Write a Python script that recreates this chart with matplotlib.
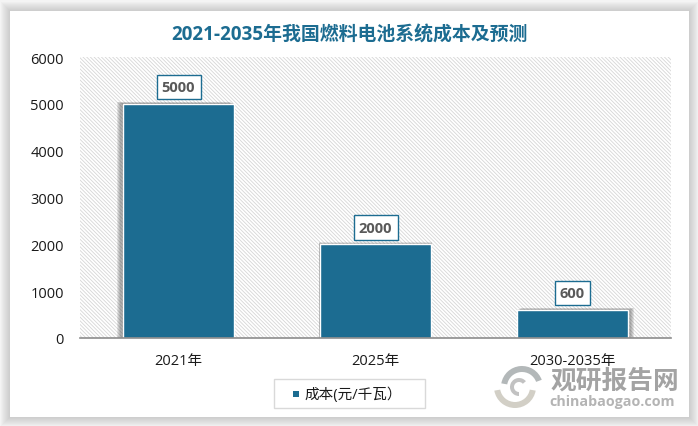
import matplotlib
matplotlib.use("Agg")
import matplotlib.pyplot as plt
from matplotlib.patches import Rectangle, Wedge

plt.rcParams['font.family'] = ['Open Sans', 'Noto Sans CJK SC', 'DejaVu Sans']
plt.rcParams['hatch.linewidth'] = 0.6

categories = ["2021年", "2025年", "2030-2035年"]
cost = [5000, 2000, 600]
y_ticks = [0, 1000, 2000, 3000, 4000, 5000, 6000]
title = "2021-2035年我国燃料电池系统成本及预测"
series_name = "成本(元/千瓦）"

BLUE = "#1c6c91"
W, H = 698, 427


def fig_rect(x0, y0, x1, y1, **kw):
    # pixel coords, y measured from the top of the image
    return Rectangle((x0 / W, 1 - y1 / H), (x1 - x0) / W, (y1 - y0) / H,
                     transform=fig.transFigure, **kw)


fig = plt.figure(figsize=(W / 100, H / 100), dpi=100, facecolor="#f4f4f4")

# card shadow, then the white card (negative zorder keeps them under the axes)
for k in range(9, 0, -1):
    fig.patches.append(fig_rect(10 - k, 12 - k, 689 + k, 418 + k, facecolor="#8c8c8c",
                                edgecolor="none", alpha=0.045, zorder=-3))
fig.patches.append(fig_rect(10, 12, 689, 418, facecolor="white", edgecolor="none", zorder=-2))

ax = fig.add_axes([80 / W, 1 - 339 / H, 591 / W, 281 / H])
ax.patch.set_alpha(0)
ax.add_patch(Rectangle((0, 0), 1, 1, transform=ax.transAxes, facecolor="white",
                       edgecolor="#d6d6d6", hatch="\\\\\\\\\\\\\\\\\\", linewidth=0, zorder=0))

x = list(range(len(categories)))
bar_width = 0.565

# soft bar shadows, leaning away from the middle of the chart
shadow_shift = [-0.025, 0.0, 0.025]
for k in range(5, 0, -1):
    ax.bar([i + s * k / 5 for i, s in zip(x, shadow_shift)], [v + k * 8 for v in cost],
           bar_width + k * 0.002, color="#444444", alpha=0.13, linewidth=0, zorder=1)

ax.bar(x, cost, bar_width, color=BLUE, edgecolor="white", linewidth=1, zorder=2)

for i, v in zip(x, cost):
    ax.annotate(str(v), xy=(i, v), xytext=(0, 12), textcoords="offset points",
                ha="center", va="center", fontsize=10.5, fontweight="bold", color="#595959",
                bbox=dict(boxstyle="square,pad=0.36", facecolor="white", edgecolor=BLUE,
                          linewidth=1), zorder=4)

ax.set_xlim(-0.5, 2.5)
ax.set_ylim(0, 6000)
ax.set_xticks(x)
ax.set_xticklabels(categories)
ax.set_yticks(y_ticks)
ax.tick_params(axis="both", length=0, labelsize=10.5, labelcolor="#1a1a1a")
ax.tick_params(axis="x", pad=10.5)
ax.tick_params(axis="y", pad=11.5)
for name in ["top", "left", "right"]:
    ax.spines[name].set_visible(False)
ax.spines["bottom"].set_color("#8c8c8c")
ax.spines["bottom"].set_linewidth(1.2)
ax.spines["bottom"].set_zorder(5)

fig.text(349 / W, 1 - 36 / H, title, ha="center", va="center", fontsize=13.6,
         fontweight="bold", color=BLUE)

# legend box
fig.patches.append(fig_rect(274, 380, 425, 409, facecolor="white", edgecolor="#d9d9d9", linewidth=1))
fig.patches.append(fig_rect(293, 392, 299, 398, facecolor=BLUE, edgecolor="none"))
fig.text(304 / W, 1 - 395 / H, series_name, ha="left", va="center", fontsize=10.5, color="#1a1a1a")

# watermark
fig.text(615 / W, 1 - 381 / H, "观研报告网", ha="center", va="center", fontsize=18.5,
         fontweight="bold", color="#a3a3a3", zorder=6)
fig.text(612 / W, 1 - 402 / H, "chinabaogao.com", ha="center", va="center", fontsize=10.3,
         fontweight="bold", color="#b4b4b4", zorder=6)

logo = fig.add_axes([490 / W, 1 - 412 / H, 58 / W, 48 / H])
logo.set_xlim(490, 548)
logo.set_ylim(412, 364)
logo.axis("off")
logo.patch.set_alpha(0)
logo.add_patch(Wedge((522, 388), 21, 190, 340, width=6, facecolor="#b3b8b9", edgecolor="none"))
logo.add_patch(Wedge((515, 388), 21, 10, 170, width=6, facecolor="#d2cfc6", edgecolor="none"))
logo.add_patch(Wedge((519, 388), 9, 90, 320, width=4, facecolor="#c2c2c2", edgecolor="none"))

fig.savefig("out.png", dpi=100, facecolor=fig.get_facecolor())
